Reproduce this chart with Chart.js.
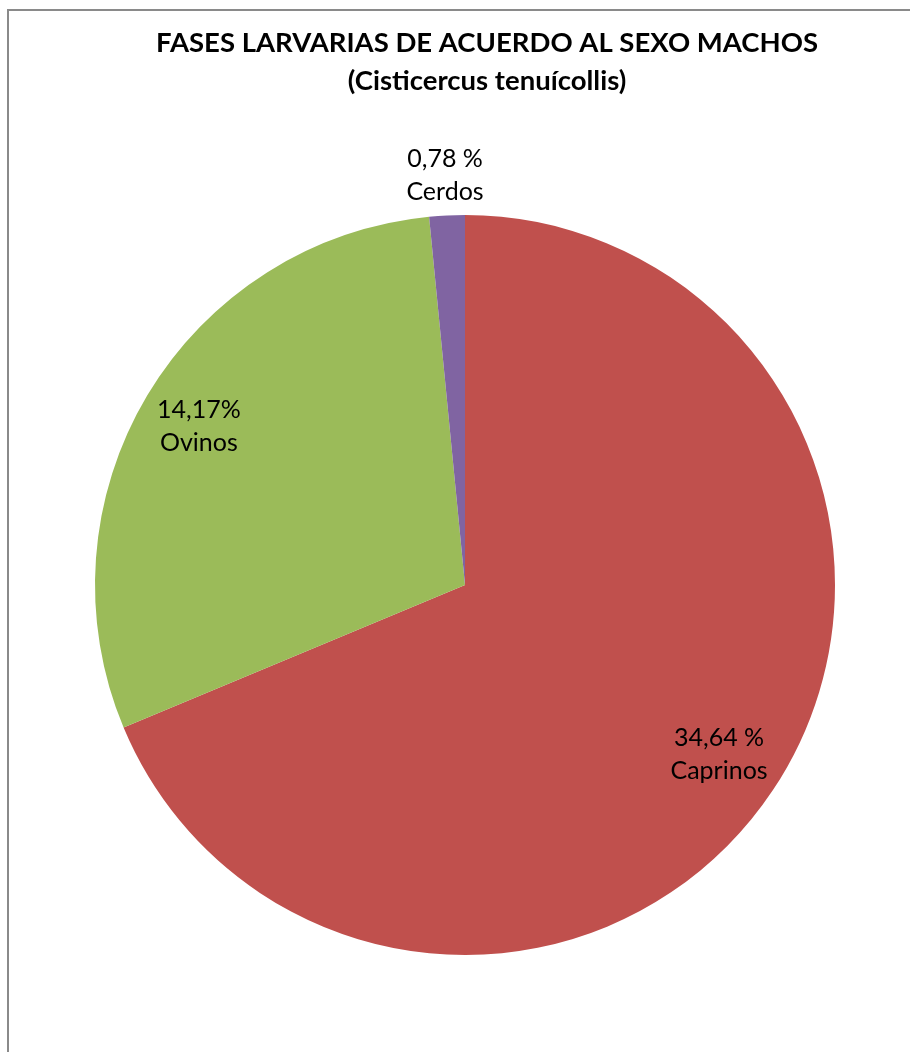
<!DOCTYPE html>
<html>
<head>
<meta charset="utf-8">
<script src="https://cdn.jsdelivr.net/npm/chart.js@4/dist/chart.umd.min.js"></script>
<style>
  html, body { margin: 0; padding: 0; background: #ffffff; }
  #wrap { position: relative; width: 910px; height: 1052px; overflow: hidden; }
  #frame { position: absolute; left: 7px; top: 9px; width: 910px; height: 1060px;
           border-top: 2px solid #8a8a8a; border-left: 2px solid #8a8a8a; box-sizing: border-box; }
  canvas { position: absolute; left: 0; top: 0; }
</style>
</head>
<body>
<div id="wrap">
  <div id="frame"></div>
  <canvas id="c" width="910" height="1052"></canvas>
</div>
<script>
const titleLines = ["FASES LARVARIAS DE ACUERDO AL SEXO MACHOS", "(Cisticercus tenuícollis)"];
const categories = ["Caprinos", "Ovinos", "Cerdos"];
const values = [34.64, 15.0, 0.78];
// label texts as printed on the picture
const valueLabels = ["34,64 %", "14,17%", "0,78 %"];
const colors = ["#C0504D", "#9BBB59", "#8064A2"];

const FONT = "Lato, 'Open Sans', sans-serif";

const textPlugin = {
  id: 'textPlugin',
  afterDraw(chart) {
    const ctx = chart.ctx;
    ctx.save();
    ctx.fillStyle = '#000000';
    ctx.textAlign = 'center';
    ctx.textBaseline = 'middle';
    ctx.font = "bold 27.5px " + FONT;
    ctx.fillText(titleLines[0], 487, 43);
    ctx.fillText(titleLines[1], 487, 81);

    const meta = chart.getDatasetMeta(0);
    ctx.font = "25px " + FONT;
    meta.data.forEach((arc, i) => {
      const p = arc.getProps(['x', 'y', 'startAngle', 'endAngle', 'outerRadius'], true);
      const mid = (p.startAngle + p.endAngle) / 2;
      let r;
      if (i === 2) {
        r = p.outerRadius + 41;
      } else {
        r = p.outerRadius * (i === 0 ? 0.825 : 0.838);
      }
      const x = p.x + Math.cos(mid) * r;
      const y = p.y + Math.sin(mid) * r;
      ctx.fillText(valueLabels[i], x, y - 16);
      ctx.fillText(categories[i], x, y + 17);
    });
    ctx.restore();
  }
};

new Chart(document.getElementById('c'), {
  type: 'pie',
  data: {
    labels: categories,
    datasets: [{
      data: values,
      backgroundColor: colors,
      borderWidth: 0
    }]
  },
  options: {
    responsive: false,
    animation: false,
    layout: { padding: { left: 95, right: 75, top: 215, bottom: 97 } },
    plugins: {
      legend: { display: false },
      tooltip: { enabled: false },
      title: { display: false }
    }
  },
  plugins: [textPlugin]
});
</script>
</body>
</html>
